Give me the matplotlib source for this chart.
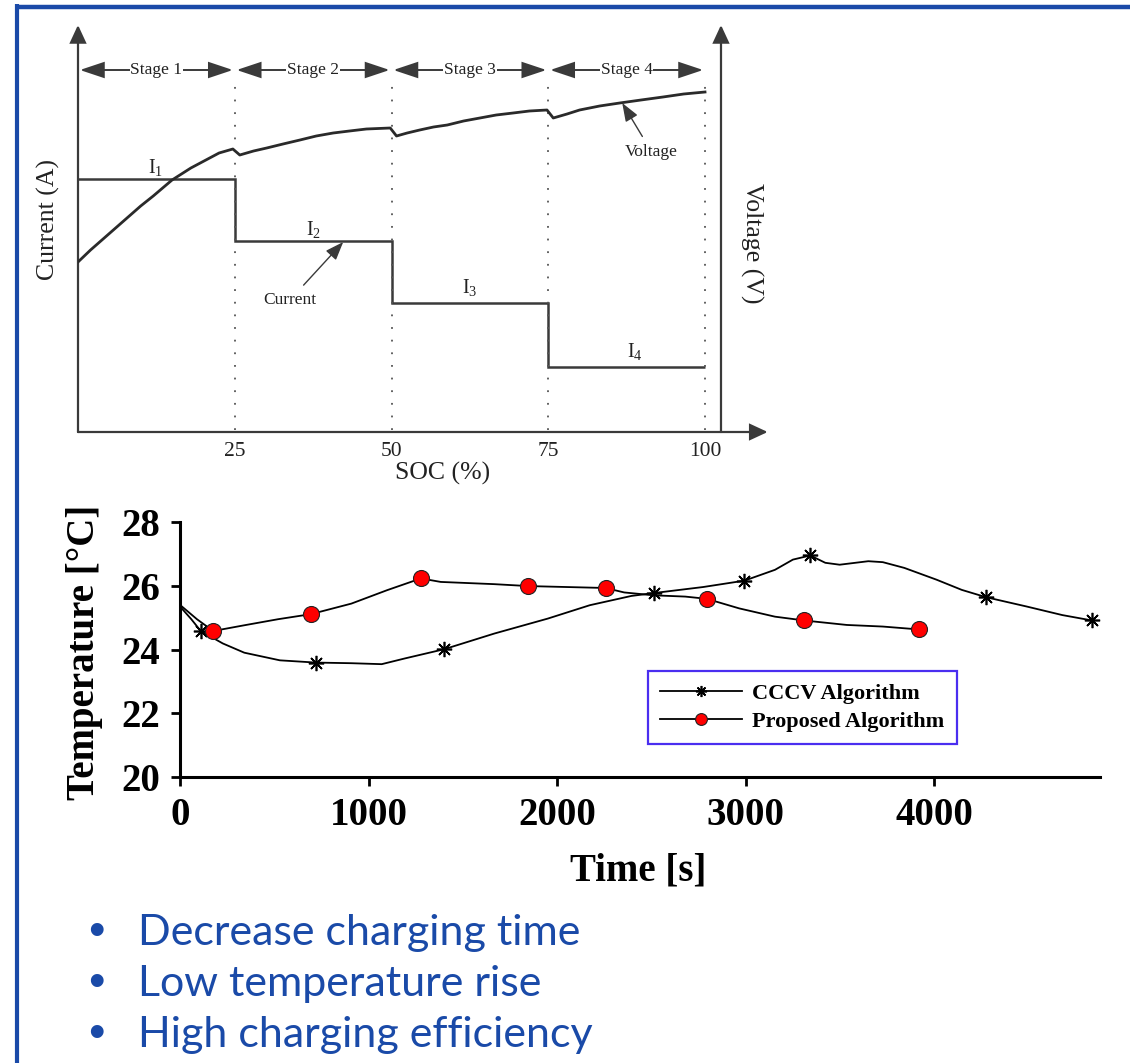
import matplotlib
matplotlib.use('Agg')
import matplotlib.pyplot as plt
from matplotlib.patches import FancyArrowPatch
from matplotlib.lines import Line2D

plt.rcParams['font.family'] = ['Liberation Serif', 'DejaVu Serif']
plt.rcParams['mathtext.fontset'] = 'custom'
plt.rcParams['mathtext.rm'] = 'Liberation Serif'
plt.rcParams['mathtext.default'] = 'regular'

# multi-stage constant-current charging profile (schematic units)
soc_edges = [0, 25, 50, 75, 100]
current_levels = [253, 191, 129, 65]
current_labels = ['I$_1$', 'I$_2$', 'I$_3$', 'I$_4$']
stage_names = ['Stage 1', 'Stage 2', 'Stage 3', 'Stage 4']
soc_ticks = [25, 50, 75, 100]
voltage_soc = [0, 2, 4, 6, 8, 10, 12, 13.5, 15, 16.5, 18, 19.5, 21, 22.5, 24.7,
               25.8, 28, 30.1, 32.7, 35.4, 38, 40.7, 43.3, 46, 49.8,
               50.8, 52.5, 54.5, 56.7, 58.9, 61.5, 64.1, 66.7, 69.4, 72, 74.8,
               75.8, 78, 80, 83.2, 86.4, 89.8, 93.3, 96.6, 100]
voltage_lvl = [170, 182, 193, 204, 215, 226, 236, 244, 252, 258, 264, 269, 274, 279, 283,
               277, 281, 284, 288, 292, 296, 299, 301, 303, 304,
               296, 299, 302, 305, 307, 311, 314, 317, 319, 321, 322,
               314, 318, 322, 326, 329, 332, 335, 338, 340]

# cell temperature during charging
cccv_time = [0, 60, 110, 227, 341, 530, 720, 909, 1070, 1193, 1402, 1667, 1951, 2174,
             2394, 2512, 2775, 2994, 3156, 3251, 3343, 3423, 3499, 3651, 3728, 3842,
             4013, 4147, 4276, 4490, 4680, 4838]
cccv_temp = [25.35, 24.95, 24.58, 24.19, 23.9, 23.66, 23.59, 23.57, 23.54, 23.72, 24.01,
             24.5, 24.97, 25.39, 25.68, 25.77, 25.96, 26.16, 26.5, 26.82, 26.95, 26.72,
             26.66, 26.77, 26.74, 26.56, 26.19, 25.87, 25.64, 25.35, 25.08, 24.91]
cccv_marks = [2, 6, 10, 15, 17, 20, 28, 31]
prop_time = [0, 90, 176, 341, 520, 695, 909, 1098, 1278, 1383, 1667, 1847, 2050, 2257,
             2356, 2512, 2680, 2794, 2966, 3156, 3312, 3537, 3728, 3918]
prop_temp = [25.4, 24.95, 24.58, 24.76, 24.95, 25.11, 25.44, 25.86, 26.23, 26.12, 26.05,
             25.99, 25.96, 25.93, 25.79, 25.7, 25.66, 25.59, 25.29, 25.03, 24.91, 24.77,
             24.72, 24.63]
prop_marks = [2, 5, 8, 11, 13, 17, 20, 23]
time_ticks = [0, 1000, 2000, 3000, 4000]
temp_ticks = [20, 22, 24, 26, 28]

bullets = ['Decrease charging time', 'Low temperature rise', 'High charging efficiency']

W, H = 1130, 1063
fig = plt.figure(figsize=(W / 100, H / 100), dpi=100)
blue = '#1a4aa8'
ink = '#3a3a3a'

# slide frame
fig.add_artist(Line2D([17 / W, 17 / W], [0, 1 - 4 / H], transform=fig.transFigure,
                      color=blue, lw=3, solid_capstyle='butt'))
fig.add_artist(Line2D([15 / W, 1], [1 - 6.5 / H, 1 - 6.5 / H], transform=fig.transFigure,
                      color=blue, lw=3.2, solid_capstyle='butt'))

# ---- top: charging profile schematic ----
px = 6.27  # pixels per % SOC
ax_t = fig.add_axes([78 / W, (H - 432) / H, 702 / W, 420 / H])
ax_t.set_xlim(0, 702 / px)
ax_t.set_ylim(0, 420)
ax_t.axis('off')


def arrow(p0, p1, style, lw=1.6, ms=10):
    ax_t.add_patch(FancyArrowPatch(p0, p1, arrowstyle=style, mutation_scale=ms,
                                   color=ink, lw=lw, shrinkA=0, shrinkB=0,
                                   clip_on=False, joinstyle='miter'))


head = '-|>,head_length=1.08,head_width=0.5'
arrow((0, 0), (0, 407), head)
arrow((0, 0), (110.0, 0), head)
arrow((102.55, 0), (102.55, 407), head)

for s in soc_ticks:
    ax_t.plot([s, s], [2, 352], color='#555555', lw=1.3, ls=(0, (1, 6)))
    ax_t.text(s, -19, str(s), ha='center', va='center', fontsize=15.5, color='#222222')
ax_t.text(58.2, -41, 'SOC (%)', ha='center', va='center', fontsize=18.5, color='#222222',
          clip_on=False)

for i, name in enumerate(stage_names):
    a, b = soc_edges[i], soc_edges[i + 1]
    arrow((a + 0.3, 362), (b - 0.3, 362), '<|-|>,head_length=1.5,head_width=0.5', lw=1.4)
    ax_t.text((a + b) / 2, 362, name, ha='center', va='center', fontsize=12.5,
              color='#222222', bbox=dict(fc='white', ec='none', pad=0.6), zorder=5)

ax_t.stairs(current_levels, soc_edges, baseline=None, color=ink, lw=1.8)
ax_t.plot(voltage_soc, voltage_lvl, color='#2a2a2a', lw=2.0)

label_pos = [(12.3, 265), (37.5, 202), (62.5, 144), (88.8, 80)]
for (x, y), lab in zip(label_pos, current_labels):
    ax_t.text(x, y, lab, ha='center', va='center', fontsize=14.5, color='#222222')

pointer = dict(arrowstyle='-|>,head_length=0.8,head_width=0.3', mutation_scale=14,
               color=ink, lw=1.0, shrinkA=4, shrinkB=0)
ax_t.annotate('Current', xy=(42.3, 190), xytext=(33.8, 132), ha='center', va='center',
              fontsize=12.5, color='#222222', arrowprops=pointer)
ax_t.annotate('Voltage', xy=(86.8, 329), xytext=(91.5, 280), ha='center', va='center',
              fontsize=12.5, color='#222222', arrowprops=pointer)

fig.text(48 / W, 1 - 220 / H, 'Current (A)', rotation=90, ha='center', va='center',
         fontsize=18.5, color='#222222')
fig.text(752 / W, 1 - 243 / H, 'Voltage (V)', rotation=-90, ha='center', va='center',
         fontsize=18.5, color='#222222')

# ---- bottom: temperature comparison ----
ax_b = fig.add_axes([180 / W, (H - 777) / H, 920 / W, 255 / H])
ax_b.plot(cccv_time, cccv_temp, color='k', lw=1.3, marker=(8, 2, 0), ms=11, mew=1.2,
          markevery=cccv_marks, label='CCCV Algorithm')
ax_b.plot(prop_time, prop_temp, color='k', lw=1.3, marker='o', ms=11.5, mfc='#ff0000',
          mec='#222222', mew=0.8, markevery=prop_marks, label='Proposed Algorithm')
ax_b.set_xlim(0, 4880)
ax_b.set_ylim(20, 28)
ax_b.set_xticks(time_ticks, [str(t) for t in time_ticks], fontsize=28, fontweight='bold')
ax_b.set_yticks(temp_ticks, [str(t) for t in temp_ticks], fontsize=28, fontweight='bold')
ax_b.tick_params(direction='out', length=6.5, width=2.0, pad=8)
for side in ('top', 'right'):
    ax_b.spines[side].set_visible(False)
for side in ('left', 'bottom'):
    ax_b.spines[side].set_linewidth(2.2)

leg = ax_b.legend(loc='upper left', bbox_to_anchor=(648 / W, 1 - 671 / H),
                  bbox_transform=fig.transFigure, frameon=True, fancybox=False,
                  edgecolor='#4a2ef0', framealpha=1, borderaxespad=0,
                  prop=dict(weight='bold', size=16), handlelength=3.7,
                  handletextpad=0.45, borderpad=0.55, labelspacing=0.35)
leg.get_frame().set_linewidth(1.6)
leg.legend_handles[0].set_markersize(8)
leg.legend_handles[1].set_markersize(8.5)

fig.text(85 / W, 1 - 652 / H, 'Temperature [°C]', rotation=90, ha='center', va='center',
         fontsize=28, fontweight='bold')
fig.text(638 / W, 1 - 871 / H, 'Time [s]', ha='center', va='center', fontsize=28,
         fontweight='bold')

# ---- bullet points ----
for i, line in enumerate(bullets):
    y = 1 - (945 + 51 * i) / H
    fig.text(96 / W, y, '•', ha='center', va='baseline', fontsize=34, color=blue,
             family='Liberation Sans')
    fig.text(138 / W, y, line, ha='left', va='baseline', fontsize=31, color=blue,
             family='Lato')

fig.savefig('out.png', dpi=100)
